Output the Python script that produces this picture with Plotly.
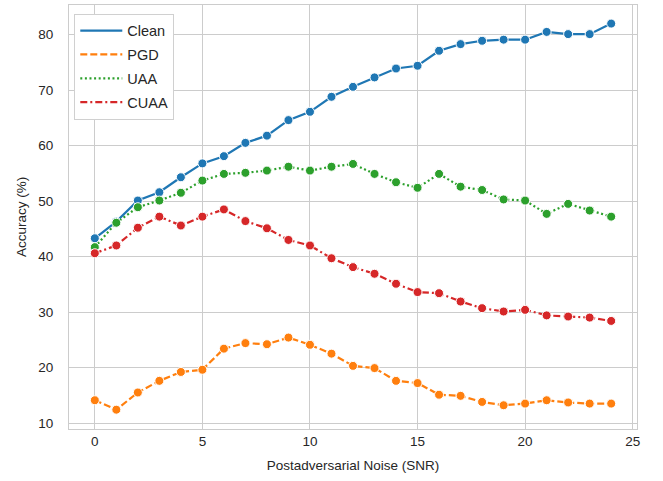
import plotly.graph_objects as go

snr = list(range(25))
clean = [43.3, 46.3, 50.1, 51.6, 54.3, 56.8, 58.1, 60.5, 61.8, 64.6, 66.1, 68.8, 70.6,
         72.3, 73.9, 74.4, 77.1, 78.3, 78.9, 79.1, 79.1, 80.5, 80.1, 80.1, 82.0]
pgd = [14.1, 12.4, 15.5, 17.6, 19.2, 19.6, 23.4, 24.4, 24.2, 25.4, 24.1, 22.5, 20.3,
       19.9, 17.6, 17.2, 15.1, 14.9, 13.8, 13.2, 13.5, 14.1, 13.7, 13.5, 13.5]
uaa = [41.7, 46.1, 48.9, 50.1, 51.5, 53.7, 54.9, 55.1, 55.5, 56.2, 55.5, 56.2, 56.7,
       54.9, 53.4, 52.4, 54.9, 52.6, 52.0, 50.3, 50.1, 47.7, 49.5, 48.3, 47.2]
cuaa = [40.6, 42.0, 45.2, 47.2, 45.6, 47.2, 48.5, 46.4, 45.1, 43.0, 42.0, 39.7, 38.1,
        36.9, 35.1, 33.6, 33.4, 31.9, 30.7, 30.1, 30.4, 29.4, 29.2, 29.0, 28.4]

series_names = ["Clean", "PGD", "UAA", "CUAA"]
series_values = [clean, pgd, uaa, cuaa]
colors = ["#1f77b4", "#ff7f0e", "#2ca02c", "#d62728"]
dashes = ["solid", "7px,3px", "2px,2.6px", "7px,3px,2px,3px"]

x_ticks = [0, 5, 10, 15, 20, 25]
y_ticks = [10, 20, 30, 40, 50, 60, 70, 80]

fig = go.Figure()
for name, vals, col, dsh in zip(series_names, series_values, colors, dashes):
    fig.add_trace(go.Scatter(
        x=snr, y=vals, mode="lines+markers", name=name,
        legendgroup=name, showlegend=False,
        line=dict(color=col, width=2.2, dash=dsh),
        marker=dict(size=9, color=col, line=dict(color="white", width=1)),
    ))
    fig.add_trace(go.Scatter(
        x=[None], y=[None], mode="lines", name=name, legendgroup=name,
        line=dict(color=col, width=2.2, dash=dsh),
    ))

font_family = "Liberation Sans, Arial, sans-serif"
fig.update_layout(
    width=663, height=481,
    margin=dict(l=69, r=26, t=5, b=52),
    paper_bgcolor="white", plot_bgcolor="white",
    font=dict(family=font_family, size=13.5, color="#262626"),
    legend=dict(
        x=0.0093, y=0.9795, xanchor="left", yanchor="top",
        bgcolor="white", bordercolor="#d0d0d0", borderwidth=1,
        font=dict(size=14.5, color="#262626"),
        tracegroupgap=2, itemwidth=42,
    ),
    showlegend=True,
)
fig.update_xaxes(
    range=[-1.2, 25.2], tickmode="array", tickvals=x_ticks,
    ticktext=[str(v) for v in x_ticks],
    showgrid=True, gridcolor="#cccccc", gridwidth=1,
    showline=True, linecolor="#cccccc", linewidth=1, mirror=True,
    zeroline=False, ticks="", ticklabelstandoff=0,
    title=dict(text="Postadversarial Noise (SNR)", font=dict(size=13.5), standoff=12),
)
fig.update_yaxes(
    range=[8.92, 85.35], tickmode="array", tickvals=y_ticks,
    ticktext=[str(v) for v in y_ticks],
    showgrid=True, gridcolor="#cccccc", gridwidth=1,
    showline=True, linecolor="#cccccc", linewidth=1, mirror=True,
    zeroline=False, ticks="", ticklabelstandoff=12,
    title=dict(text="Accuracy (%)", font=dict(size=13.5), standoff=8),
)
fig.write_html("out.html", config={"displayModeBar": False},
               post_script="document.body.style.margin='0';")
